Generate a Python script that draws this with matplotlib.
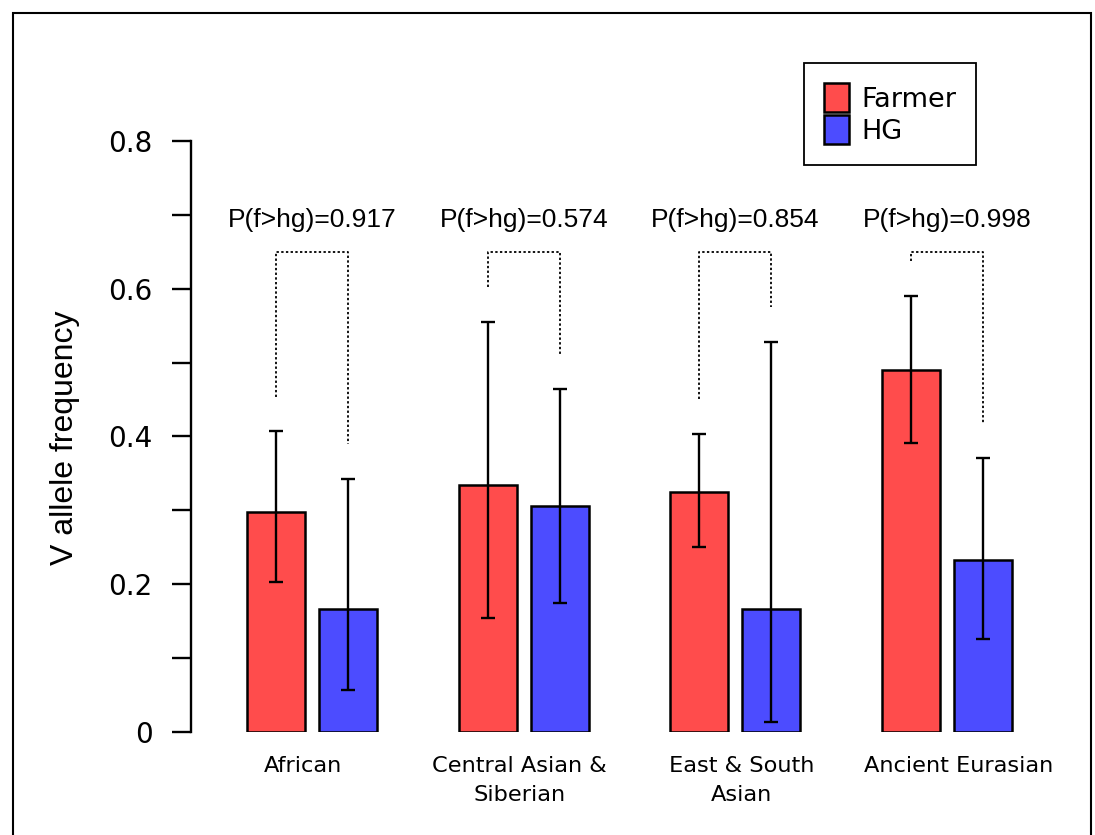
import matplotlib
matplotlib.use("Agg")
import matplotlib.pyplot as plt
from matplotlib.patches import Rectangle, Patch
import numpy as np

# ---- data ----
categories = ["African", "Central Asian &\nSiberian", "East & South\nAsian", "Ancient Eurasian"]
farmer = [0.298, 0.334, 0.325, 0.490]
farmer_lo = [0.203, 0.154, 0.251, 0.391]
farmer_hi = [0.407, 0.555, 0.404, 0.590]
hg = [0.167, 0.306, 0.167, 0.233]
hg_lo = [0.057, 0.175, 0.0135, 0.126]
hg_hi = [0.343, 0.464, 0.528, 0.371]
pvals = ["0.917", "0.574", "0.854", "0.998"]
yticks_major = [0, 0.2, 0.4, 0.6, 0.8]
ytick_labels = ["0", "0.2", "0.4", "0.6", "0.8"]
yticks_minor = [0.1, 0.3, 0.5, 0.7]

# ---- style / layout ----
red = "#FF4C4C"
blue = "#4C4CFF"
W, H = 1095, 835
fig = plt.figure(figsize=(W / 100, H / 100), dpi=100)

ax_l, ax_r, ax_b, ax_t = 191, 1040, 732, 141
ax = fig.add_axes([ax_l / W, 1 - ax_b / H, (ax_r - ax_l) / W, (ax_b - ax_t) / H])

group_step = 3.65
offset = 0.62
centers = np.arange(len(categories)) * group_step
xf = centers - offset
xh = centers + offset

err_f = [np.array(farmer) - np.array(farmer_lo), np.array(farmer_hi) - np.array(farmer)]
err_h = [np.array(hg) - np.array(hg_lo), np.array(hg_hi) - np.array(hg)]

ekw = dict(ecolor="black", elinewidth=1.7, capsize=5, capthick=1.7)
ax.bar(xf, farmer, width=1.0, color=red, edgecolor="black", linewidth=1.8,
       yerr=err_f, error_kw=ekw, zorder=2)
ax.bar(xh, hg, width=1.0, color=blue, edgecolor="black", linewidth=1.8,
       yerr=err_h, error_kw=ekw, zorder=2)

# brackets
gap = 0.047
bracket_y = 0.65
text_y = 0.693
for i in range(len(categories)):
    ax.plot([xf[i], xf[i], xh[i], xh[i]],
            [farmer_hi[i] + gap, bracket_y, bracket_y, hg_hi[i] + gap],
            color="black", lw=1.3, linestyle=(0, (1.3, 1.3)), zorder=1)
    ax.text(centers[i], text_y, "P(f>hg)=" + pvals[i], ha="center", va="center",
            fontsize=19, family="Liberation Sans")

# category labels
label_shift = [-0.164, -0.069, 0.112, 0.207]
for i, c in enumerate(categories):
    ax.text(centers[i] + label_shift[i], -0.032, c, ha="center", va="top",
            fontsize=16.2, family="DejaVu Sans", linespacing=1.6, clip_on=False)

ax.set_xlim(-(312 - 191) / 58, (ax_r - 312) / 58)
ax.set_ylim(0, 0.8)
for s in ["top", "right", "bottom"]:
    ax.spines[s].set_visible(False)
ax.spines["left"].set_linewidth(1.7)
ax.set_xticks([])
ax.set_yticks(yticks_major)
ax.set_yticklabels(ytick_labels, fontsize=20, family="DejaVu Sans")
ax.set_yticks(yticks_minor, minor=True)
ax.tick_params(axis="y", which="both", length=13.7, width=1.7, pad=14)

fig.text(65 / W, 1 - 438 / H, "V allele frequency", rotation=90, ha="center",
         va="center", fontsize=23, family="Liberation Sans")

# legend
handles = [Patch(facecolor=red, edgecolor="black", linewidth=1.8, label="Farmer"),
           Patch(facecolor=blue, edgecolor="black", linewidth=1.8, label="HG")]
leg = fig.legend(handles=handles, loc="upper left",
                 bbox_to_anchor=(804 / W, 1 - 63 / H), borderaxespad=0,
                 handlelength=0.9, handleheight=1.25,
                 handletextpad=0.45, labelspacing=0.1, borderpad=0.75,
                 fancybox=False, framealpha=1, edgecolor="black",
                 prop={"family": "DejaVu Sans", "size": 19.5})
leg.get_frame().set_linewidth(1.3)

# outer frame
fig.patches.append(Rectangle((13 / W, -0.05), (1091 - 13) / W, 1 - 13 / H + 0.05,
                             transform=fig.transFigure, fill=False,
                             edgecolor="black", linewidth=1.5))

fig.savefig("out.png", dpi=100)
